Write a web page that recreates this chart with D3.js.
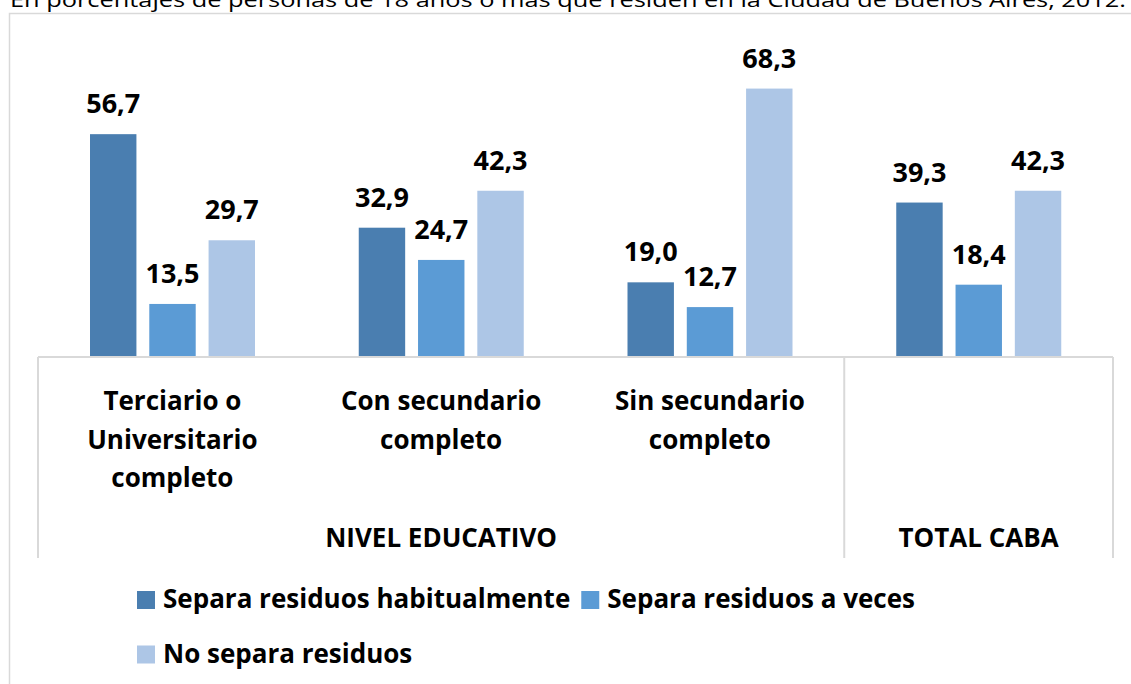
<!DOCTYPE html>
<html>
<head>
<meta charset="utf-8">
<script src="https://cdn.jsdelivr.net/npm/d3@7"></script>
<style>
  body { margin: 0; background: #fff; }
  svg { display: block; font-family: "Open Sans", Lato, sans-serif; }
  .lbl { font-weight: bold; font-size: 26px; fill: #000; }
  .val { font-size: 27px; }
</style>
</head>
<body>
<script>
// data
var categories = ["Terciario o Universitario completo", "Con secundario completo", "Sin secundario completo", "TOTAL CABA"];
var categoryLines = [["Terciario o", "Universitario", "completo"], ["Con secundario", "completo"], ["Sin secundario", "completo"], []];
var groups = [
  {name: "NIVEL EDUCATIVO", from: 0, to: 2},
  {name: "TOTAL CABA", from: 3, to: 3}
];
var seriesNames = ["Separa residuos habitualmente", "Separa residuos a veces", "No separa residuos"];
var habitualmente = [56.7, 32.9, 19.0, 39.3];
var aVeces = [13.5, 24.7, 12.7, 18.4];
var noSepara = [29.7, 42.3, 68.3, 42.3];
var colors = ["#4a7eb0", "#5b9bd5", "#adc6e6"];
var subtitle = "En porcentajes de personas de 18 años o más que residen en la Ciudad de Buenos Aires, 2012.";

var svgWidth = 1131;
var svgHeight = 684;

var plot = {left: 38, right: 1113, top: 42.6, bottom: 357};

var svg = d3.select("body")
  .append("svg")
  .attr("width", svgWidth)
  .attr("height", svgHeight);

// outer frame
svg.append("rect")
  .attr("x", 9.5)
  .attr("y", 13.5)
  .attr("width", 1200)
  .attr("height", 800)
  .attr("fill", "none")
  .attr("stroke", "#d9d9d9")
  .attr("stroke-width", 1.5);

// subtitle, cut at the top like the original
svg.append("text")
  .attr("x", 10)
  .attr("y", 7)
  .attr("textLength", 1116)
  .attr("lengthAdjust", "spacingAndGlyphs")
  .style("font-size", "20px")
  .style("fill", "#000")
  .text(subtitle);

// scales
var xScale = d3.scaleBand()
  .domain(categories)
  .range([plot.left, plot.right]);

var xSub = d3.scaleBand()
  .domain(seriesNames)
  .range([52, 217])
  .paddingInner(0.217);

var yScale = d3.scaleLinear()
  .domain([0, 80])
  .range([plot.bottom, plot.top]);

var allSeries = [habitualmente, aVeces, noSepara];
var rows = [];
categories.forEach(function (c, i) {
  seriesNames.forEach(function (s, j) {
    rows.push({cat: c, series: s, idx: j, value: allSeries[j][i]});
  });
});

// bars
svg.selectAll(".bar")
  .data(rows)
  .enter()
  .append("rect")
  .attr("class", "bar")
  .attr("x", d => xScale(d.cat) + xSub(d.series))
  .attr("y", d => yScale(d.value))
  .attr("width", xSub.bandwidth())
  .attr("height", d => yScale(0) - yScale(d.value))
  .attr("fill", d => colors[d.idx]);

// value labels
svg.selectAll(".val")
  .data(rows)
  .enter()
  .append("text")
  .attr("class", "lbl val")
  .attr("x", d => xScale(d.cat) + xSub(d.series) + xSub.bandwidth() / 2)
  .attr("y", d => yScale(d.value) - 21)
  .style("text-anchor", "middle")
  .text(d => d3.format(".1f")(d.value).replace(".", ","));

// axis line
svg.append("line")
  .attr("x1", plot.left)
  .attr("x2", plot.right)
  .attr("y1", plot.bottom)
  .attr("y2", plot.bottom)
  .attr("stroke", "#d9d9d9")
  .attr("stroke-width", 2);

// group separators
var sepX = [plot.left, xScale(categories[3]), plot.right];
svg.selectAll(".sep")
  .data(sepX)
  .enter()
  .append("line")
  .attr("x1", d => d)
  .attr("x2", d => d)
  .attr("y1", plot.bottom)
  .attr("y2", 558)
  .attr("stroke", "#d9d9d9")
  .attr("stroke-width", 2);

// category labels
categories.forEach(function (c, i) {
  var t = svg.append("text")
    .attr("class", "lbl")
    .style("text-anchor", "middle");
  categoryLines[i].forEach(function (line, k) {
    t.append("tspan")
      .attr("x", xScale(c) + xScale.bandwidth() / 2)
      .attr("y", 410 + k * 38.5)
      .text(line);
  });
});

// group labels
svg.selectAll(".grp")
  .data(groups)
  .enter()
  .append("text")
  .attr("class", "lbl")
  .attr("x", d => (xScale(categories[d.from]) + xScale(categories[d.to]) + xScale.bandwidth()) / 2)
  .attr("y", 547)
  .style("text-anchor", "middle")
  .text(d => d.name);

// legend
var legendRows = [[0, 1], [2]];
legendRows.forEach(function (row, r) {
  var x = 137;
  var cy = 600 + r * 54.5;
  row.forEach(function (j) {
    svg.append("rect")
      .attr("x", x)
      .attr("y", cy - 9)
      .attr("width", 18)
      .attr("height", 18)
      .attr("fill", colors[j]);
    var t = svg.append("text")
      .attr("class", "lbl")
      .attr("x", x + 26)
      .attr("y", cy + 8)
      .text(seriesNames[j]);
    x = x + 26 + t.node().getComputedTextLength() + 11;
  });
});
</script>
</body>
</html>
